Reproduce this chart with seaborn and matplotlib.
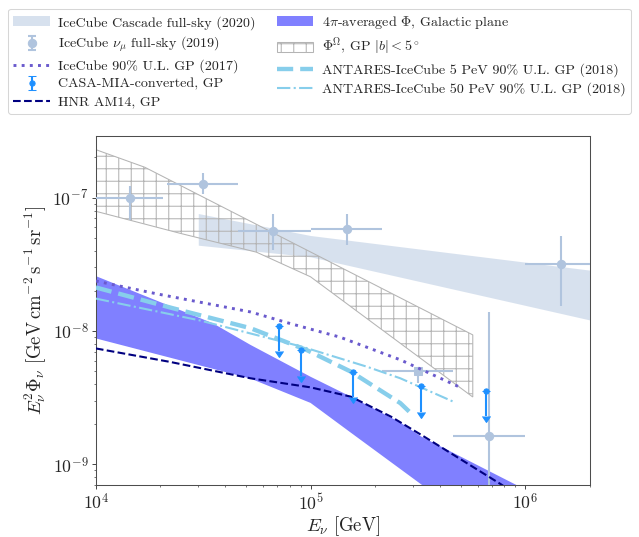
import numpy as np
import matplotlib
matplotlib.use("Agg")
import matplotlib.pyplot as plt
import seaborn as sns
from matplotlib.container import ErrorbarContainer
from matplotlib.lines import Line2D

sns.set_style("ticks")
plt.rcParams["font.family"] = "serif"
plt.rcParams["font.serif"] = ["cmr10", "DejaVu Serif"]
plt.rcParams["mathtext.fontset"] = "cm"
plt.rcParams["axes.unicode_minus"] = False
plt.rcParams["axes.formatter.use_mathtext"] = True
plt.rcParams["hatch.linewidth"] = 1.0

# IceCube cascade full-sky band (2020)
casc_E = [3e4, 1e5, 2e6]
casc_lo = [4.4e-8, 3.6e-8, 1.21e-8]
casc_hi = [7.6e-8, 5.2e-8, 2.86e-8]

# IceCube nu_mu full-sky (2019) points
numu_E = [1.45e4, 3.14e4, 6.7e4, 1.48e5, 6.8e5, 1.47e6]
numu_phi = [1.0e-7, 1.265e-7, 5.6e-8, 5.8e-8, 1.63e-9, 3.18e-8]
numu_Elo = [1.0e4, 2.14e4, 4.61e4, 1.0e5, 4.62e5, 1.0e6]
numu_Ehi = [2.05e4, 4.61e4, 1.0e5, 2.15e5, 1.0e6, 2.0e6]
numu_plo = [6.76e-8, 1.07e-7, 4.04e-8, 4.4e-8, 1e-10, 1.55e-8]
numu_phi_hi = [1.22e-7, 1.53e-7, 7.55e-8, 7.55e-8, 1.39e-8, 5.2e-8]
# square point
sq_E, sq_phi, sq_Elo, sq_Ehi, sq_plo = 3.16e5, 5.04e-9, 2.15e5, 4.6e5, 4.05e-9

# IceCube 90% UL GP (2017)
ic17_E = [1e4, 1.92e4, 5.25e4, 8.0e4, 1.37e5, 2.62e5, 5.07e5]
ic17_phi = [2.37e-8, 1.9e-8, 1.39e-8, 1.14e-8, 9.0e-9, 6.08e-9, 3.73e-9]

# CASA-MIA converted upper limits
casa_E = [7.13e4, 9.03e4, 1.575e5, 3.27e5, 6.58e5]
casa_phi = [1.09e-8, 7.15e-9, 4.92e-9, 3.84e-9, 3.57e-9]

# HNR AM14
hnr_E = [1e4, 2.21e4, 5.25e4, 1e5, 1.54e5, 2.37e5, 3.37e5, 7.7e5, 9e5]
hnr_phi = [7.4e-9, 5.87e-9, 4.42e-9, 3.78e-9, 3.22e-9, 2.28e-9, 1.62e-9, 7.1e-10, 6.0e-10]

# 4pi-averaged band, Galactic plane
gp_up_E = [1e4, 3.52e4, 5.25e4, 1e5, 1.54e5, 2.62e5, 3.27e5, 8.98e5, 1.2e6]
gp_up = [2.58e-8, 1.14e-8, 7.87e-9, 4.54e-9, 3.22e-9, 2.06e-9, 1.62e-9, 7.08e-10, 5.6e-10]
gp_lo_E = [1e4, 5.25e4, 1e5, 1.54e5, 3.27e5, 1.2e6]
gp_lo = [8.8e-9, 4.4e-9, 2.89e-9, 1.73e-9, 7.1e-10, 1.6e-10]

# Phi^Omega, GP |b|<5 deg (hatched)
po_up_E = [1e4, 1.69e4, 5.7e5]
po_up = [2.29e-7, 1.69e-7, 9.35e-9]
po_lo_E = [1e4, 2.47e4, 5.6e4, 1e5, 5.7e5]
po_lo = [7.9e-8, 5.4e-8, 3.9e-8, 2.55e-8, 3.2e-9]

# ANTARES-IceCube 5 PeV and 50 PeV
ant5_E = [1e4, 2.29e4, 5.25e4, 9.6e4, 1.54e5, 2.62e5, 2.88e5]
ant5_phi = [2.12e-8, 1.48e-8, 1.05e-8, 7.2e-9, 4.96e-9, 2.88e-9, 2.49e-9]
ant50_E = [1e4, 3.05e4, 9.2e4, 1.83e5, 2.62e5, 4.63e5]
ant50_phi = [1.75e-8, 1.2e-8, 7.6e-9, 5.4e-9, 4.42e-9, 2.95e-9]

fig = plt.figure(figsize=(639 / 75, 537 / 75), dpi=75)
ax = fig.add_axes([0.150, 0.0968, 0.773, 0.650])
ax.set_xscale("log")
ax.set_yscale("log")

casc = ax.fill_between(casc_E, casc_lo, casc_hi, color="#b0c4de", alpha=0.5, lw=0, zorder=1)

gp = ax.fill(list(gp_up_E) + gp_lo_E[::-1], list(gp_up) + gp_lo[::-1],
             color="#8080ff", lw=0, zorder=2)[0]

po = ax.fill(list(po_up_E) + po_lo_E[::-1], list(po_up) + po_lo[::-1],
             facecolor="none", edgecolor="#b4b4b4", hatch="+", lw=1.0, zorder=1)[0]

nu = ax.errorbar(numu_E, numu_phi,
                 xerr=[np.array(numu_E) - numu_Elo, np.array(numu_Ehi) - numu_E],
                 yerr=[np.array(numu_phi) - numu_plo, np.array(numu_phi_hi) - numu_phi],
                 fmt="o", color="#b0c4de", ms=8, lw=2, zorder=3)
ax.errorbar([sq_E], [sq_phi], xerr=[[sq_E - sq_Elo], [sq_Ehi - sq_E]],
            yerr=[[sq_phi - sq_plo], [0]], fmt="s", color="#b0c4de", ms=8, lw=2, zorder=3)

sns.lineplot(x=ic17_E, y=ic17_phi, ax=ax, color="#6a5acd", lw=2.8, linestyle=(0, (1, 1.8)),
             legend=False, zorder=4)
ic17 = ax.lines[-1]
sns.lineplot(x=hnr_E, y=hnr_phi, ax=ax, color="#000080", lw=2, linestyle="--",
             legend=False, zorder=4)
hnr = ax.lines[-1]
sns.lineplot(x=ant5_E, y=ant5_phi, ax=ax, color="#87ceeb", lw=4.2, linestyle="--",
             legend=False, zorder=4)
ant5 = ax.lines[-1]
sns.lineplot(x=ant50_E, y=ant50_phi, ax=ax, color="#87ceeb", lw=2, linestyle="-.",
             legend=False, zorder=4)
ant50 = ax.lines[-1]

casa = ax.errorbar(casa_E, casa_phi, yerr=0.355 * np.array(casa_phi), uplims=True,
                   fmt="o", color="#1e90ff", ms=5, lw=2, capsize=4, zorder=5)

ax.set_xlim(1e4, 2e6)
ax.set_ylim(7e-10, 2.9e-7)
ax.set_xlabel(r"$E_\nu\ [\mathrm{GeV}]$", fontsize=18, labelpad=1)
ax.set_ylabel(r"$E_\nu^2\Phi_\nu\ [\mathrm{GeV\,cm^{-2}\,s^{-1}\,sr^{-1}}]$", fontsize=18)
ax.tick_params(labelsize=17)
for s in ax.spines.values():
    s.set_color("0.3")
    s.set_linewidth(1.0)

cap = Line2D([], [], color="#b0c4de", marker="_", markersize=7, mew=2, linestyle="none")
nu_handle = ErrorbarContainer((nu.lines[0], (cap, cap), nu.lines[2]),
                              has_xerr=False, has_yerr=True)
handles = [casc, nu_handle, ic17, casa, hnr, gp, po, ant5, ant50]
labels = ["IceCube Cascade full-sky (2020)", r"IceCube $\nu_\mu$ full-sky (2019)",
          "IceCube 90% U.L. GP (2017)", "CASA-MIA-converted, GP", "HNR AM14, GP",
          r"$4\pi$-averaged $\Phi$, Galactic plane", r"$\Phi^\Omega$, GP $|b| < 5^\circ$",
          "ANTARES-IceCube 5 PeV 90% U.L. GP (2018)",
          "ANTARES-IceCube 50 PeV 90% U.L. GP (2018)"]
fig.legend(handles, labels, loc="upper center", bbox_to_anchor=(0.5, 0.997), ncol=2,
           fontsize=13.5, handlelength=2.6, handletextpad=0.6, columnspacing=1.5,
           labelspacing=0.36, borderpad=0.4, frameon=True)

fig.savefig("out.png", dpi=75)
